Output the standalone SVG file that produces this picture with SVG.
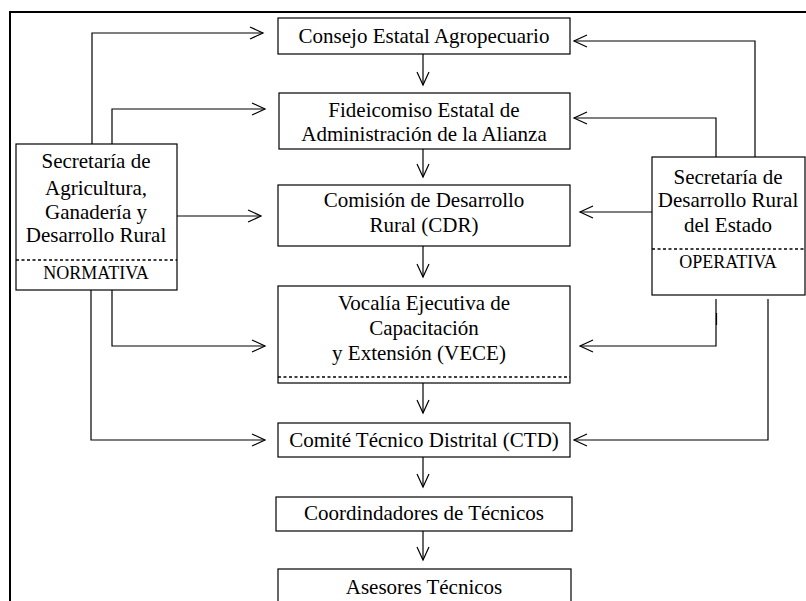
<svg xmlns="http://www.w3.org/2000/svg" width="806" height="601" viewBox="0 0 806 601">
<style>
.box{fill:#fff;stroke:#000;stroke-width:1.2}
.frame{fill:none;stroke:#000;stroke-width:2}
.ln{fill:none;stroke:#000;stroke-width:1.2}
.dot{fill:none;stroke:#000;stroke-width:1.5;stroke-dasharray:3,2.5}
text{font-family:"Liberation Serif","Times New Roman",serif;font-size:21px;fill:#000;text-anchor:middle}
.sm{font-size:18px}
</style>
<defs>
<marker id="arr" markerWidth="16" markerHeight="14" refX="14" refY="7" orient="auto" markerUnits="userSpaceOnUse">
<path d="M1,1 L14,7 L1,13" fill="none" stroke="#000" stroke-width="1.2"/>
</marker>
</defs>
<rect width="806" height="601" fill="#fff"/>
<path class="frame" d="M10,601 V12 H806"/>

<g id="connectors">
<path class="ln" d="M92,144 V33 H263" marker-end="url(#arr)"/>
<path class="ln" d="M112,144 V109 H265" marker-end="url(#arr)"/>
<path class="ln" d="M177,216 H261" marker-end="url(#arr)"/>
<path class="ln" d="M112,290 V346 H265" marker-end="url(#arr)"/>
<path class="ln" d="M91,290 V440 H265" marker-end="url(#arr)"/>
<path class="ln" d="M755,157 V41 H574" marker-end="url(#arr)"/>
<path class="ln" d="M716,157 V118 H574" marker-end="url(#arr)"/>
<path class="ln" d="M652,212 H580" marker-end="url(#arr)"/>
<path class="ln" d="M716,299 V346 H580" marker-end="url(#arr)"/>
<path class="ln" d="M716.5,313 V325" stroke="#000" stroke-width="2.4"/>
<path class="ln" d="M768,299 V440 H574" marker-end="url(#arr)"/>
<path class="ln" d="M423,54 V85" marker-end="url(#arr)"/>
<path class="ln" d="M423,149 V177" marker-end="url(#arr)"/>
<path class="ln" d="M423,246 V277" marker-end="url(#arr)"/>
<path class="ln" d="M423,383 V413" marker-end="url(#arr)"/>
<path class="ln" d="M423,457 V487" marker-end="url(#arr)"/>
<path class="ln" d="M423,531 V560" marker-end="url(#arr)"/>
</g>

<g id="consejo">
<rect class="box" x="278" y="18" width="292" height="36"/>
<text x="424" y="43">Consejo Estatal Agropecuario</text>
</g>
<g id="fideicomiso">
<rect class="box" x="279" y="93" width="291" height="56"/>
<text x="424" y="117">Fideicomiso Estatal de</text>
<text x="424" y="141">Administración de la Alianza</text>
</g>
<g id="cdr">
<rect class="box" x="278" y="185" width="292" height="61"/>
<text x="424" y="207">Comisión de Desarrollo</text>
<text x="424" y="232">Rural (CDR)</text>
</g>
<g id="vece">
<rect class="box" x="278" y="286" width="292" height="97"/>
<text x="424" y="310">Vocalía Ejecutiva de</text>
<text x="424" y="335">Capacitación</text>
<text x="419" y="360">y Extensión (VECE)</text>
<path class="dot" d="M278,377 H570"/>
</g>
<g id="ctd">
<rect class="box" x="278" y="423" width="292" height="34"/>
<text x="424" y="447">Comité Técnico Distrital (CTD)</text>
</g>
<g id="coordinadores">
<rect class="box" x="276" y="497" width="296" height="34"/>
<text x="424" y="520">Coordindadores de Técnicos</text>
</g>
<g id="asesores">
<rect class="box" x="278" y="569" width="293" height="40"/>
<text x="424" y="594">Asesores Técnicos</text>
</g>
<g id="sagarpa">
<rect class="box" x="16" y="144" width="161" height="146"/>
<text x="96" y="168">Secretaría de</text>
<text x="96" y="195">Agricultura,</text>
<text x="96" y="219">Ganadería y</text>
<text x="96" y="242">Desarrollo Rural</text>
<path class="dot" d="M16,260 H177"/>
<text class="sm" x="96" y="279">NORMATIVA</text>
</g>
<g id="sdr">
<rect class="box" x="652" y="157" width="153" height="138"/>
<text x="728" y="184">Secretaría de</text>
<text x="728" y="207">Desarrollo Rural</text>
<text x="728" y="232">del Estado</text>
<path class="dot" d="M652,249 H805"/>
<text class="sm" x="728" y="268">OPERATIVA</text>
</g>
</svg>
